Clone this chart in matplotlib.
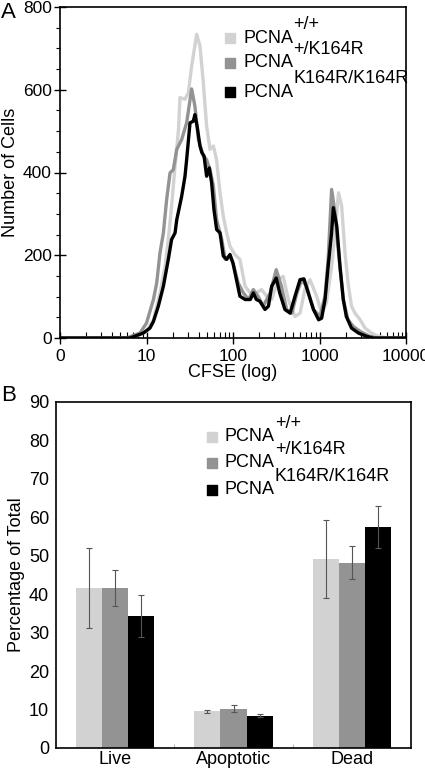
import numpy as np
import matplotlib
matplotlib.use("Agg")
import matplotlib.pyplot as plt
from matplotlib.ticker import LogLocator, FixedLocator, FuncFormatter, MultipleLocator, NullFormatter

plt.rcParams['font.family'] = ['Liberation Sans', 'DejaVu Sans']

# ---- panel A: CFSE histograms (x as log10 CFSE) ----
wt_logx = [0.0, 0.85, 1.0, 1.08, 1.156, 1.214, 1.252, 1.29, 1.33, 1.37, 1.387, 1.445, 1.484,
           1.522, 1.58, 1.618, 1.657, 1.695, 1.734, 1.773, 1.81, 1.85, 1.888, 1.927, 1.965,
           2.02, 2.08, 2.14, 2.2, 2.27, 2.33, 2.39, 2.447, 2.52, 2.58, 2.64, 2.717, 2.775,
           2.83, 2.89, 2.967, 3.025, 3.08, 3.14, 3.18, 3.22, 3.256, 3.295, 3.33, 3.37, 3.41,
           3.47, 3.526, 3.6, 3.68, 3.78, 4.0]
wt_cells = [0, 0, 16, 44, 109, 173, 238, 319, 415, 504, 581, 577, 593,
            657, 734, 706, 617, 512, 456, 464, 431, 351, 294, 254, 222,
            202, 190, 125, 109, 109, 117, 101, 93, 141, 149, 93, 52, 60,
            117, 141, 101, 60, 85, 173, 254, 351, 319, 206, 133, 77, 60,
            44, 24, 12, 4, 0, 0]

het_logx = [0.0, 0.77, 0.925, 1.0, 1.08, 1.118, 1.156, 1.195, 1.233, 1.272, 1.31, 1.35, 1.407,
            1.464, 1.522, 1.56, 1.6, 1.657, 1.695, 1.734, 1.773, 1.81, 1.87, 1.91, 1.965,
            2.0, 2.06, 2.12, 2.18, 2.235, 2.29, 2.35, 2.43, 2.5, 2.56, 2.62, 2.68, 2.74,
            2.795, 2.85, 2.93, 3.006, 3.064, 3.1, 3.14, 3.18, 3.22, 3.275, 3.33, 3.39,
            3.47, 3.58, 3.66, 4.0]
het_cells = [0, 0, 12, 36, 93, 133, 206, 254, 335, 399, 407, 456, 480,
             520, 602, 560, 480, 440, 431, 407, 367, 286, 238, 190, 198,
             181, 133, 109, 93, 117, 101, 77, 109, 165, 125, 69, 60, 109,
             141, 125, 69, 52, 101, 190, 359, 302, 206, 93, 44, 28,
             16, 4, 0, 0]

mut_logx = [0.0, 0.81, 0.963, 1.04, 1.08, 1.137, 1.195, 1.252, 1.29, 1.33, 1.35, 1.407, 1.445,
            1.464, 1.503, 1.541, 1.56, 1.588, 1.618, 1.64, 1.665, 1.695, 1.726, 1.753, 1.78,
            1.811, 1.85, 1.888, 1.927, 1.965, 2.0, 2.04, 2.08, 2.14, 2.2, 2.235, 2.27, 2.31,
            2.37, 2.41, 2.447, 2.5, 2.54, 2.6, 2.66, 2.717, 2.775, 2.82, 2.87, 2.93, 2.99,
            3.025, 3.064, 3.1, 3.14, 3.16, 3.2, 3.237, 3.275, 3.31, 3.37, 3.45, 3.545, 3.62, 4.0]
mut_cells = [0, 0, 12, 24, 40, 77, 125, 190, 238, 254, 286, 343, 391,
             431, 520, 524, 540, 508, 464, 448, 440, 391, 411, 375, 310,
             262, 254, 198, 190, 202, 181, 141, 101, 93, 93, 109, 93, 89,
             69, 77, 125, 145, 109, 69, 60, 101, 141, 143, 109, 69, 44,
             48, 93, 173, 254, 315, 270, 173, 93, 52, 24, 12, 4, 0, 0]

# ---- panel B: viability ----
categories = ['Live', 'Apoptotic', 'Dead']
wt_pct = [41.5, 9.5, 49.1]
wt_err = [10.4, 0.5, 10.1]
het_pct = [41.7, 10.2, 48.2]
het_err = [4.7, 0.9, 4.3]
mut_pct = [34.3, 8.4, 57.4]
mut_err = [5.4, 0.4, 5.5]

genotypes = [('+/+', '#d2d2d2'), ('+/K164R', '#939393'), ('K164R/K164R', '#000000')]


def draw_legend(ax, xsq, xtxt, rows, fs=13):
    for (sup, col), y in zip(genotypes, rows):
        ax.scatter([xsq], [y], s=48, marker='s', color=col, transform=ax.transAxes,
                   clip_on=False, zorder=5)
        t = ax.text(xtxt, y, 'PCNA', transform=ax.transAxes, fontsize=fs, va='center', ha='left')
        ax.annotate(sup, xy=(1.0, 0.8), xycoords=t, fontsize=fs, va='bottom', ha='left')


fig = plt.figure(figsize=(4.25, 7.69), dpi=100)

# panel A
axA = fig.add_axes([60 / 425, 1 - 338 / 769, 346 / 425, 331 / 769])
for lx, cy, col in [(wt_logx, wt_cells, '#d2d2d2'),
                    (het_logx, het_cells, '#939393'),
                    (mut_logx, mut_cells, '#000000')]:
    axA.plot(10 ** np.array(lx), cy, color=col, lw=2.4, solid_joinstyle='round')
axA.set_xscale('log')
axA.set_xlim(1, 10000)
axA.set_ylim(0, 800)
axA.xaxis.set_major_locator(FixedLocator([1, 10, 100, 1000, 10000]))
axA.xaxis.set_major_formatter(FuncFormatter(lambda v, p: '0' if v <= 1 else '%d' % v))
axA.xaxis.set_minor_locator(LogLocator(base=10, subs=np.arange(2, 10), numticks=20))
axA.xaxis.set_minor_formatter(NullFormatter())
axA.yaxis.set_major_locator(MultipleLocator(200))
axA.yaxis.set_minor_locator(MultipleLocator(50))
axA.tick_params(axis='x', which='major', direction='inout', length=8, width=1, labelsize=12.5, pad=4)
axA.tick_params(axis='x', which='minor', direction='in', length=4, width=0.8)
axA.tick_params(axis='y', which='major', direction='inout', length=8, width=1, labelsize=12.5, pad=2)
axA.tick_params(axis='y', which='minor', direction='out', length=3, width=0.8)
for s in axA.spines.values():
    s.set_linewidth(1.2)
axA.set_xlabel('CFSE (log)', fontsize=13, labelpad=0)
axA.set_ylabel('Number of Cells', fontsize=13, labelpad=3)
draw_legend(axA, 0.491, 0.529, [0.906, 0.831, 0.743])
fig.text(1 / 425, 1 - 12 / 769, 'A', fontsize=16, va='center', ha='left')

# panel B
axB = fig.add_axes([56 / 425, 1 - 748 / 769, 355 / 425, 346 / 769])
xc = np.arange(len(categories)) + 0.5
w = 0.22
for off, vals, errs, (sup, col) in zip([-w, 0, w], [wt_pct, het_pct, mut_pct],
                                       [wt_err, het_err, mut_err], genotypes):
    axB.bar(xc + off, vals, width=w, color=col, edgecolor='none', zorder=2)
    axB.errorbar(xc + off, vals, yerr=errs, fmt='none', ecolor='#555555',
                 elinewidth=0.8, capsize=2, capthick=0.8, zorder=3)
axB.set_xlim(0, 3)
axB.set_ylim(0, 90)
axB.yaxis.set_major_locator(MultipleLocator(10))
axB.xaxis.set_major_locator(FixedLocator([1, 2]))
axB.xaxis.set_major_formatter(NullFormatter())
axB.xaxis.set_minor_locator(FixedLocator(list(xc)))
axB.xaxis.set_minor_formatter(FuncFormatter(lambda v, p: categories[int(v)]))
axB.tick_params(axis='x', which='major', direction='in', length=3, color='#bbbbbb')
axB.tick_params(axis='x', which='minor', length=0, labelsize=13, pad=2)
axB.tick_params(axis='y', direction='in', length=0, labelsize=13, pad=5)
for s in axB.spines.values():
    s.set_linewidth(1.2)
axB.set_ylabel('Percentage of Total', fontsize=13, labelpad=3)
draw_legend(axB, 0.439, 0.476, [0.899, 0.824, 0.746])
fig.text(1 / 425, 1 - 395 / 769, 'B', fontsize=16, va='center', ha='left')

fig.savefig('out.png', dpi=100)
